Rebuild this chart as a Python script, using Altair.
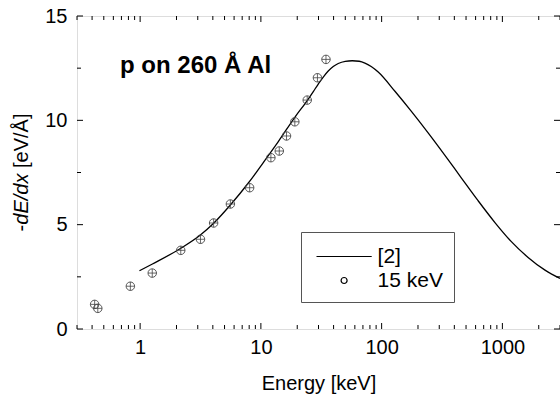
import altair as alt
import pandas as pd

# ---------------- data ----------------
title_text = "p on 260 Å Al"
x_title = "Energy [keV]"
y_title_parts = ["-", "dE/dx", "[eV/Å]"]
series_names = ["[2]", "15 keV"]

# curve from reference [2]
curve_energy = [0.987, 1.264, 2.155, 3.154, 4.042, 5.587, 7.87, 8.944, 10.47, 13.94,
                19.16, 24.36, 27.16, 29.87, 32.85, 36.13, 39.74, 43.72, 49.94, 57.09,
                65.23, 72.7, 81.95, 93.67, 129.4, 175.7, 242.7, 335.6, 455, 629, 871,
                1181, 1633, 2254, 3000]
curve_dedx = [2.79, 3.115, 3.857, 4.504, 5.055, 5.942, 6.996, 7.427, 7.978, 8.984,
              10.158, 10.973, 11.38, 11.739, 12.075, 12.362, 12.578, 12.722, 12.827, 12.856,
              12.832, 12.746, 12.578, 12.314, 11.38, 10.44, 9.40, 8.31, 7.26, 6.15, 5.09,
              4.20, 3.43, 2.82, 2.42]

# 15 keV measurements
exp_energy = [0.42, 0.446, 0.83, 1.26, 2.17, 3.16, 4.06, 5.59, 8.07, 12.1, 14.2, 16.3,
              19.1, 24.2, 29.4, 34.6]
exp_dedx = [1.18, 0.99, 2.05, 2.68, 3.77, 4.30, 5.08, 5.99, 6.77, 8.21, 8.53, 9.25,
            9.93, 10.97, 12.04, 12.92]

x_major = [1, 10, 100, 1000]
x_minor = [0.3, 0.4, 0.5, 0.6, 0.7, 0.8, 0.9, 2, 3, 4, 5, 6, 7, 8, 9,
           20, 30, 40, 50, 60, 70, 80, 90, 200, 300, 400, 500, 600, 700, 800, 900,
           2000, 3000]
y_major = [0, 5, 10, 15]
y_minor = [2.5, 7.5, 12.5]

# ---------------- layout ----------------
W, H = 483, 313
FONT = "Liberation Sans"
MAJOR, MINOR = 6, 4

curve_df = pd.DataFrame({"E": curve_energy, "S": curve_dedx})
exp_df = pd.DataFrame({"E": exp_energy, "S": exp_dedx, "series": series_names[1]})

xs = alt.Scale(type="log", domain=[0.3, 3000], nice=False)
ys = alt.Scale(domain=[0, 15], nice=False, zero=False)

main_x = alt.Axis(orient="bottom", values=x_major, format="d", ticks=False, domain=False,
                  grid=False, labelFontSize=20, labelPadding=8, labelColor="black",
                  labelFont=FONT, title=x_title, titleFontSize=20, titleFont=FONT,
                  titleFontWeight="normal", titlePadding=16, titleColor="black")
main_y = alt.Axis(orient="left", values=y_major, format="d", ticks=False, domain=False,
                  grid=False, labelFontSize=20, labelPadding=10, labelColor="black",
                  labelFont=FONT, title=None)

curve = alt.Chart(curve_df).mark_line(
    color="black", strokeWidth=1.3, interpolate="monotone"
).encode(
    x=alt.X("E:Q", scale=xs, axis=main_x),
    y=alt.Y("S:Q", scale=ys, axis=main_y),
)

legend = alt.Legend(title=" ", titleFontSize=3, titlePadding=0,
                    orient="none", legendX=224, legendY=216,
                    direction="vertical", padding=11, rowPadding=2,
                    strokeColor="#555", fillColor="white", labelFontSize=21,
                    labelFont=FONT, labelColor="black", labelOffset=23,
                    symbolOffset=21.6, symbolSize=36, symbolStrokeColor="black",
                    symbolStrokeWidth=1.2, symbolFillColor="transparent")

circles = alt.Chart(exp_df).mark_point(
    filled=False, size=72, stroke="#444", strokeWidth=0.9, opacity=1
).encode(
    x=alt.X("E:Q", scale=xs, axis=None),
    y=alt.Y("S:Q", scale=ys, axis=None),
    shape=alt.Shape("series:N",
                    scale=alt.Scale(domain=series_names, range=["M-9.2,0L9.2,0", "circle"]),
                    legend=legend),
)

crosses = alt.Chart(exp_df).mark_point(
    shape="M-1,0L1,0M0,-1L0,1", filled=False, size=72, stroke="#444",
    strokeWidth=0.8, opacity=1
).encode(
    x=alt.X("E:Q", scale=xs, axis=None),
    y=alt.Y("S:Q", scale=ys, axis=None),
)


# inward ticks on all four sides
def x_ticks(values, length, top):
    y0, y1 = (0, length) if top else (H, H - length)
    return alt.Chart(pd.DataFrame({"v": values})).mark_rule(
        color="black", strokeWidth=1
    ).encode(x=alt.X("v:Q", scale=xs, axis=None), y=alt.value(y0), y2=alt.value(y1))


def y_ticks(values, length, right):
    x0, x1 = (W, W - length) if right else (0, length)
    return alt.Chart(pd.DataFrame({"v": values})).mark_rule(
        color="black", strokeWidth=1
    ).encode(y=alt.Y("v:Q", scale=ys, axis=None), x=alt.value(x0), x2=alt.value(x1))


tick_layers = [
    x_ticks(x_major, MAJOR, False), x_ticks(x_minor, MINOR, False),
    x_ticks(x_major, MAJOR, True), x_ticks(x_minor, MINOR, True),
    y_ticks(y_major, MAJOR, False), y_ticks(y_minor, MINOR, False),
    y_ticks(y_major, MAJOR, True), y_ticks(y_minor, MINOR, True),
]

title = alt.Chart(pd.DataFrame({"t": [title_text]})).mark_text(
    align="left", baseline="alphabetic", fontSize=24, fontWeight="bold",
    font=FONT, color="black"
).encode(text="t:N", x=alt.value(43), y=alt.value(57))

yt_pos = [215.4, 208.7, 152.0]
yt_style = ["normal", "italic", "normal"]
ytitle_layers = []
for part, pos, style in zip(y_title_parts, yt_pos, yt_style):
    ytitle_layers.append(
        alt.Chart(pd.DataFrame({"t": [part]})).mark_text(
            align="left", baseline="middle", angle=270, fontSize=20, font=FONT,
            fontStyle=style, color="black"
        ).encode(text="t:N", x=alt.value(-55), y=alt.value(pos))
    )

chart = alt.layer(
    curve, *tick_layers, circles, crosses, title, *ytitle_layers
).resolve_axis(
    x="independent", y="independent"
).properties(
    width=W, height=H,
    autosize=alt.AutoSizeParams(type="none"),
    padding={"left": 77, "top": 16, "right": 0, "bottom": 71},
).configure_view(
    stroke="black", strokeWidth=1.2
).configure(font=FONT, background="white")

chart.save("out.html", embed_options={"renderer": "svg", "actions": False})
